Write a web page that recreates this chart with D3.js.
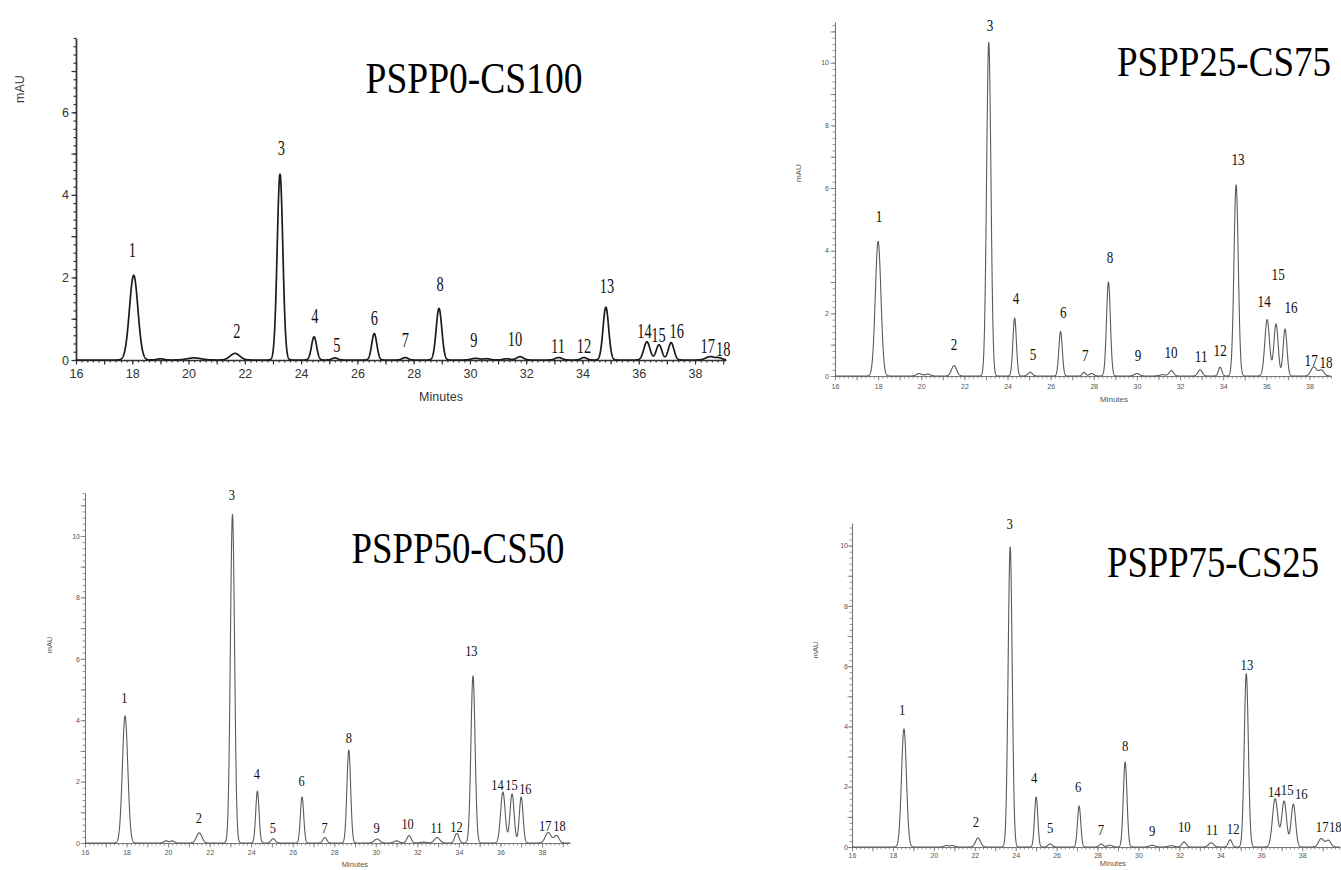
<!DOCTYPE html>
<html>
<head>
<meta charset="utf-8">
<script src="https://cdn.jsdelivr.net/npm/d3@7"></script>
<style>
    body { margin: 0; background: #fff; }
    svg { display: block; }
</style>
</head>
<body>
<svg id="chart" width="1341" height="870"></svg>
<script>
// sample names
const titles = ["PSPP0-CS100", "PSPP25-CS75", "PSPP50-CS50", "PSPP75-CS25"];
const peakNames = d3.range(1, 19).map(String);

// retention time (min), height (mAU), peak sigma (min)
const rt1 = [18.05, 21.65, 23.25, 24.46, 25.2, 26.6, 27.7, 28.9, 30.2, 31.78, 33.15, 34.05, 34.83, 36.29, 36.72, 37.15, 38.53, 38.85];
const h1 = [2.05, 0.16, 4.5, 0.56, 0.05, 0.64, 0.06, 1.25, 0.04, 0.08, 0.06, 0.06, 1.28, 0.44, 0.37, 0.42, 0.08, 0.05];
const sd1 = [0.15, 0.17, 0.1, 0.09, 0.1, 0.09, 0.1, 0.1, 0.15, 0.12, 0.12, 0.1, 0.1, 0.11, 0.1, 0.1, 0.15, 0.12];
const lx1 = [18.0, 21.72, 23.3, 24.49, 25.27, 26.6, 27.7, 28.94, 30.14, 31.6, 33.13, 34.05, 34.87, 36.2, 36.7, 37.35, 38.45, 39.0];
const ly1 = [2.5, 0.53, 4.97, 0.9, 0.19, 0.85, 0.32, 1.67, 0.32, 0.34, 0.17, 0.17, 1.62, 0.53, 0.44, 0.53, 0.17, 0.1];

const rt2 = [18.0, 21.52, 23.13, 24.33, 25.05, 26.46, 27.55, 28.68, 30.0, 31.6, 32.93, 33.86, 34.6, 36.04, 36.45, 36.87, 38.2, 38.55];
const h2 = [4.3, 0.33, 10.65, 1.85, 0.12, 1.42, 0.12, 3.0, 0.08, 0.17, 0.2, 0.28, 6.1, 1.8, 1.66, 1.5, 0.29, 0.19];
const sd2 = [0.13, 0.12, 0.1, 0.08, 0.1, 0.08, 0.08, 0.09, 0.12, 0.1, 0.1, 0.08, 0.1, 0.11, 0.1, 0.09, 0.13, 0.12];
const lx2 = [18.04, 21.52, 23.19, 24.4, 25.18, 26.58, 27.6, 28.75, 30.05, 31.58, 32.98, 33.86, 34.69, 35.9, 36.55, 37.15, 38.08, 38.77];
const ly2 = [4.92, 0.83, 11.0, 2.3, 0.5, 1.85, 0.48, 3.6, 0.48, 0.57, 0.45, 0.64, 6.74, 2.2, 3.07, 2.0, 0.32, 0.26];

const rt3 = [17.93, 21.5, 23.1, 24.3, 25.06, 26.45, 27.55, 28.7, 30.06, 31.6, 32.95, 33.9, 34.68, 36.12, 36.56, 37.0, 38.3, 38.7];
const h3 = [4.14, 0.33, 10.7, 1.69, 0.14, 1.5, 0.18, 3.03, 0.13, 0.24, 0.18, 0.31, 5.44, 1.66, 1.6, 1.5, 0.34, 0.24];
const sd3 = [0.13, 0.13, 0.1, 0.08, 0.1, 0.08, 0.09, 0.09, 0.13, 0.1, 0.13, 0.1, 0.1, 0.11, 0.1, 0.09, 0.14, 0.12];
const lx3 = [17.9, 21.48, 23.07, 24.27, 25.04, 26.43, 27.54, 28.7, 30.04, 31.53, 32.92, 33.88, 34.6, 35.86, 36.53, 37.2, 38.16, 38.84];
const ly3 = [4.56, 0.65, 11.17, 2.1, 0.33, 1.86, 0.33, 3.26, 0.33, 0.46, 0.33, 0.36, 6.1, 1.73, 1.73, 1.6, 0.39, 0.39];

const rt4 = [18.54, 22.16, 23.73, 25.0, 25.68, 27.1, 28.18, 29.35, 30.67, 32.23, 33.55, 34.48, 35.27, 36.68, 37.12, 37.57, 38.93, 39.28];
const h4 = [3.92, 0.3, 9.95, 1.66, 0.1, 1.36, 0.1, 2.82, 0.06, 0.17, 0.14, 0.24, 5.75, 1.6, 1.52, 1.42, 0.28, 0.22];
const sd4 = [0.12, 0.12, 0.1, 0.08, 0.1, 0.08, 0.09, 0.09, 0.13, 0.1, 0.12, 0.09, 0.1, 0.13, 0.12, 0.11, 0.13, 0.12];
const lx4 = [18.45, 22.06, 23.7, 24.9, 25.68, 27.05, 28.17, 29.35, 30.67, 32.24, 33.6, 34.63, 35.3, 36.64, 37.27, 37.96, 38.98, 39.62];
const ly4 = [4.39, 0.66, 10.55, 2.12, 0.46, 1.82, 0.4, 3.19, 0.37, 0.5, 0.4, 0.43, 5.88, 1.66, 1.73, 1.59, 0.5, 0.5];

// small unlabelled bumps on the baseline [time, height, sigma]
const bumps1 = [[19.0, 0.03, 0.12], [20.2, 0.05, 0.25], [30.6, 0.03, 0.12], [31.3, 0.03, 0.12]];
const bumps2 = [[19.9, 0.08, 0.12], [20.3, 0.06, 0.12], [27.9, 0.08, 0.1], [31.2, 0.04, 0.15]];
const bumps3 = [[19.9, 0.07, 0.1], [20.2, 0.07, 0.1], [31.0, 0.07, 0.12], [32.3, 0.03, 0.15]];
const bumps4 = [[20.6, 0.05, 0.1], [20.9, 0.05, 0.1], [28.6, 0.06, 0.12], [31.6, 0.04, 0.15]];

const xLabelTicks = d3.range(16, 40, 2);

// layout & style of each of the four panels
const panels = [
    {
        title: titles[0], rt: rt1, h: h1, sd: sd1, lx: lx1, ly: ly1, bumps: bumps1,
        xDom: [16, 39.1], xRange: [76, 726], yDom: [0, 7.8], yRange: [360, 38],
        yLabelTicks: [0, 2, 4, 6],
        titleX: 474, titleY: 93, titleW: 217, titleSize: 44,
        mauX: 20, mauY: 89, minX: 441, minY: 401,
        tickFont: 12.5, axisFont: 12.5, pad: 6,
        labelFont: 20, labelScale: 0.72,
        line: "#1c1c1c", lineW: 1.7, axis: "#333", text: "#333",
    },
    {
        title: titles[1], rt: rt2, h: h2, sd: sd2, lx: lx2, ly: ly2, bumps: bumps2,
        xDom: [16, 39.0], xRange: [835, 1331], yDom: [0, 11.3], yRange: [376, 22],
        yLabelTicks: [0, 2, 4, 6, 8, 10],
        titleX: 1224, titleY: 76, titleW: 214, titleSize: 42,
        mauX: 798, mauY: 173, minX: 1114, minY: 402,
        tickFont: 7, axisFont: 8, pad: 5,
        labelFont: 16, labelScale: 0.82,
        line: "#5a5a5a", lineW: 1.1, axis: "#777", text: "#555",
    },
    {
        title: titles[2], rt: rt3, h: h3, sd: sd3, lx: lx3, ly: ly3, bumps: bumps3,
        xDom: [16, 39.35], xRange: [85, 570], yDom: [0, 11.4], yRange: [843, 493],
        yLabelTicks: [0, 2, 4, 6, 8, 10],
        titleX: 458, titleY: 563, titleW: 213, titleSize: 44,
        mauX: 49, mauY: 645, minX: 355, minY: 867,
        tickFont: 7, axisFont: 7.5, pad: 4,
        labelFont: 15.5, labelScale: 0.8,
        line: "#5a5a5a", lineW: 1.1, axis: "#777", text: "#555",
    },
    {
        title: titles[3], rt: rt4, h: h4, sd: sd4, lx: lx4, ly: ly4, bumps: bumps4,
        xDom: [16, 39.85], xRange: [852, 1340], yDom: [0, 10.75], yRange: [847, 523],
        yLabelTicks: [0, 2, 4, 6, 8, 10],
        titleX: 1213, titleY: 577, titleW: 212, titleSize: 44,
        mauX: 815, mauY: 650, minX: 1113, minY: 866,
        tickFont: 7, axisFont: 7.5, pad: 3,
        labelFont: 15.5, labelScale: 0.82,
        line: "#5a5a5a", lineW: 1.1, axis: "#777", text: "#555",
    },
];

const svg = d3.select("#chart");

panels.forEach((p) => {
    const g = svg.append("g");

    const x = d3.scaleLinear().domain(p.xDom).range(p.xRange);
    const y = d3.scaleLinear().domain(p.yDom).range(p.yRange);

    // peaks as gaussians, plus the small baseline bumps
    const peaks = p.rt.map((t, i) => [t, p.h[i], p.sd[i]]).concat(p.bumps);
    const signal = (t) =>
        d3.sum(peaks, ([c, a, s]) => a * Math.exp(-((t - c) ** 2) / (2 * s * s)));

    const n = Math.round((p.xDom[1] - p.xDom[0]) / 0.005);
    const trace = d3.range(n + 1).map((i) => {
        const t = p.xDom[0] + i * 0.005;
        return [t, signal(t)];
    });

    // minor / major ticks
    const xMinor = d3.range(0, Math.floor((p.xDom[1] - 16) / 0.2) + 1).map((i) => 16 + i * 0.2);
    const xMajor = d3.range(16, p.xDom[1], 1);
    const yMinor = d3.range(0, Math.floor(p.yDom[1] / 0.2) + 1).map((i) => i * 0.2);
    const yMajor = d3.range(0, p.yDom[1], 1);

    const bottom = p.yRange[0];
    const left = p.xRange[0];

    const styleAxis = (sel) => {
        sel.select(".domain").attr("stroke", p.axis).attr("stroke-width", p.lineW);
        sel.selectAll(".tick line").attr("stroke", p.axis).attr("stroke-width", p.lineW * 0.7);
        sel.selectAll("text")
            .attr("fill", p.text)
            .attr("font-family", "'Liberation Sans', Arial, sans-serif")
            .attr("font-size", p.tickFont);
    };

    g.append("g")
        .attr("transform", `translate(0,${bottom})`)
        .call(d3.axisBottom(x).tickValues(xMinor).tickSize(2.5).tickFormat("").tickSizeOuter(0))
        .call(styleAxis);
    g.append("g")
        .attr("transform", `translate(0,${bottom})`)
        .call(d3.axisBottom(x).tickValues(xMajor).tickSize(4.5).tickFormat("").tickSizeOuter(0))
        .call(styleAxis)
        .select(".domain").remove();
    g.append("g")
        .attr("transform", `translate(0,${bottom})`)
        .call(d3.axisBottom(x).tickValues(xLabelTicks).tickSize(0).tickPadding(p.pad + 3).tickSizeOuter(0))
        .call(styleAxis)
        .call((s) => s.select(".domain").remove());

    g.append("g")
        .attr("transform", `translate(${left},0)`)
        .call(d3.axisLeft(y).tickValues(yMinor).tickSize(2.5).tickFormat("").tickSizeOuter(0))
        .call(styleAxis);
    g.append("g")
        .attr("transform", `translate(${left},0)`)
        .call(d3.axisLeft(y).tickValues(yMajor).tickSize(4.5).tickFormat("").tickSizeOuter(0))
        .call(styleAxis)
        .select(".domain").remove();
    g.append("g")
        .attr("transform", `translate(${left},0)`)
        .call(d3.axisLeft(y).tickValues(p.yLabelTicks).tickSize(0).tickPadding(p.pad + 1).tickSizeOuter(0))
        .call(styleAxis)
        .call((s) => s.select(".domain").remove());

    // the chromatogram
    g.append("path")
        .datum(trace)
        .attr("fill", "none")
        .attr("stroke", p.line)
        .attr("stroke-width", p.lineW)
        .attr("stroke-linejoin", "round")
        .attr("d", d3.line().x((d) => x(d[0])).y((d) => y(d[1])));

    // peak numbers
    g.append("g")
        .selectAll("g")
        .data(peakNames)
        .join("g")
        .attr("transform", (d, i) => `translate(${x(p.lx[i])},${y(p.ly[i])}) scale(${p.labelScale},1)`)
        .append("text")
        .attr("text-anchor", "middle")
        .attr("font-family", "'Liberation Serif', 'Times New Roman', serif")
        .attr("font-size", p.labelFont)
        .attr("fill", "#111")
        .text((d) => d);

    // axis titles
    g.append("text")
        .attr("transform", `translate(${p.mauX},${p.mauY}) rotate(-90)`)
        .attr("text-anchor", "middle")
        .attr("dy", "0.35em")
        .attr("font-family", "'Liberation Sans', Arial, sans-serif")
        .attr("font-size", p.axisFont)
        .attr("fill", p.text)
        .text("mAU");

    g.append("text")
        .attr("x", p.minX)
        .attr("y", p.minY)
        .attr("text-anchor", "middle")
        .attr("font-family", "'Liberation Sans', Arial, sans-serif")
        .attr("font-size", p.axisFont)
        .attr("fill", p.text)
        .text("Minutes");

    // sample title, squeezed horizontally like the original
    const tg = g.append("g");
    const title = tg.append("text")
        .attr("text-anchor", "middle")
        .attr("font-family", "'Liberation Serif', 'Times New Roman', serif")
        .attr("font-size", p.titleSize)
        .attr("fill", "#000")
        .text(p.title);
    const natural = title.node().getComputedTextLength() || p.titleW;
    tg.attr("transform", `translate(${p.titleX},${p.titleY}) scale(${p.titleW / natural},1)`);
});
</script>
</body>
</html>
